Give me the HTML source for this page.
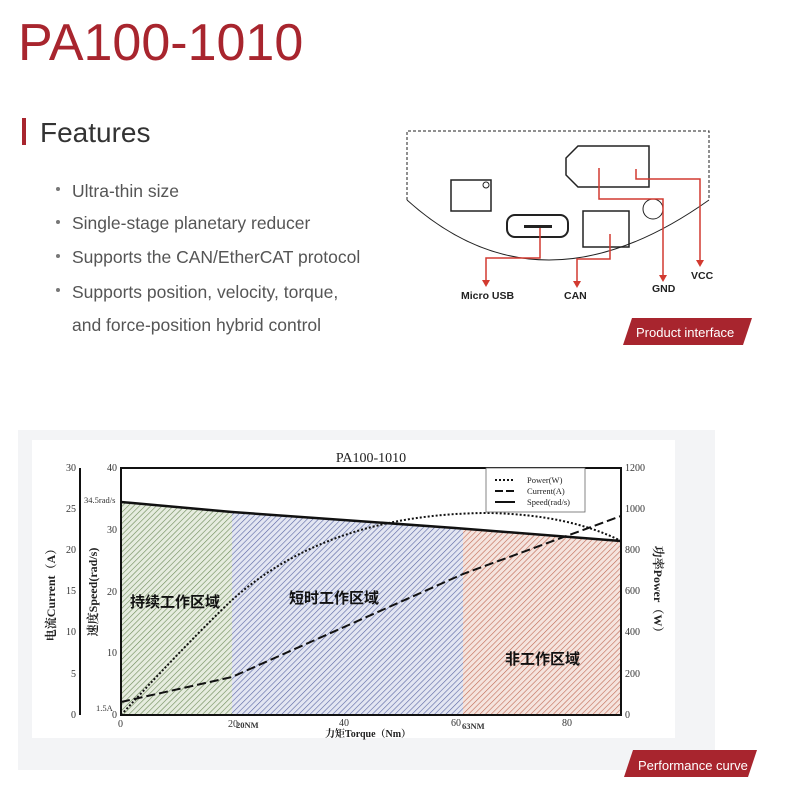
<!DOCTYPE html>
<html><head><meta charset="utf-8"><style>
html,body{margin:0;padding:0;background:#fff;width:787px;height:807px;overflow:hidden}
svg{display:block}
</style></head><body>
<svg width="787" height="807" viewBox="0 0 787 807" xmlns="http://www.w3.org/2000/svg" font-family="Liberation Sans, sans-serif">
<defs>
<pattern id="hg" width="4" height="4" patternUnits="userSpaceOnUse" patternTransform="rotate(45)"><rect width="4" height="4" fill="#e6ecdf"/><line x1="0" y1="0" x2="0" y2="4" stroke="#6d8a58" stroke-width="1.2"/></pattern>
<pattern id="hb" width="4" height="4" patternUnits="userSpaceOnUse" patternTransform="rotate(45)"><rect width="4" height="4" fill="#e3e6f2"/><line x1="0" y1="0" x2="0" y2="4" stroke="#5a66a3" stroke-width="1.2"/></pattern>
<pattern id="hr" width="4" height="4" patternUnits="userSpaceOnUse" patternTransform="rotate(45)"><rect width="4" height="4" fill="#f5e4de"/><line x1="0" y1="0" x2="0" y2="4" stroke="#c06a55" stroke-width="1.2"/></pattern>
</defs>
<text x="18" y="60" font-size="52" fill="#a8252e" font-family="Liberation Sans, sans-serif">PA100-1010</text>
<rect x="22" y="118" width="4" height="27" fill="#a8252e"/>
<text x="40" y="142" font-size="28" fill="#333">Features</text>
<g font-size="17.5" fill="#555">
<circle cx="58" cy="189" r="2" fill="#777"/><text x="72" y="197">Ultra-thin size</text>
<circle cx="58" cy="222" r="2" fill="#777"/><text x="72" y="229">Single-stage planetary reducer</text>
<circle cx="58" cy="256" r="2" fill="#777"/><text x="72" y="263">Supports the CAN/EtherCAT protocol</text>
<circle cx="58" cy="290" r="2" fill="#777"/><text x="72" y="298">Supports position, velocity, torque,</text>
<text x="72" y="331">and force-position hybrid control</text>
</g>
<g fill="none" stroke="#222" stroke-width="1">
<path d="M407 200 V131 H709 V200" stroke-dasharray="3,2"/>
<path d="M407 200 Q540 320 709 200"/>
<rect x="451" y="180" width="40" height="31" stroke-width="1.5"/>
<circle cx="486" cy="185" r="3"/>
<rect x="507" y="215" width="61" height="22" rx="8" stroke-width="2"/>
<rect x="583" y="211" width="46" height="36" stroke-width="1.5"/>
<path d="M578 146 H649 V187 H578 L566 175 V158 Z" stroke-width="1.5"/>
<circle cx="653" cy="209" r="10"/>
</g>
<rect x="524" y="225" width="28" height="3" fill="#222"/>
<g fill="none" stroke="#d23a30" stroke-width="1.5">
<path d="M540 228 V258 H486 V282"/><path d="M610 234 V259 H577 V283"/>
<path d="M599 168 V199 H663 V277"/><path d="M636 169 V179 H700 V262"/>
</g>
<g fill="#d23a30"><path d="M482 280 L486 287 L490 280Z"/><path d="M573 281 L577 288 L581 281Z"/><path d="M659 275 L663 282 L667 275Z"/><path d="M696 260 L700 267 L704 260Z"/></g>
<g font-size="10.5" font-weight="bold" fill="#222">
<text x="461" y="299">Micro USB</text><text x="564" y="299">CAN</text><text x="652" y="292">GND</text><text x="691" y="279">VCC</text>
</g>
<path d="M632 318 H752 L743 345 H623 Z" fill="#a8252e"/>
<text x="636" y="337" font-size="13" fill="#fff">Product interface</text>
<rect x="18" y="430" width="697" height="340" fill="#f3f4f6"/>
<rect x="32" y="440" width="643" height="298" fill="#fff"/>
<path d="M121 715 V502 L232 512 V715 Z" fill="url(#hg)"/>
<path d="M232 715 V512 L463 529 V715 Z" fill="url(#hb)"/>
<path d="M463 715 V529 L621 541 V715 Z" fill="url(#hr)"/>
<rect x="121" y="468" width="500" height="247" fill="none" stroke="#111" stroke-width="2"/>
<path d="M121 502 L232 512 L455 528 L621 541" fill="none" stroke="#111" stroke-width="2.5"/>
<path d="M121 715 Q190 640 232 600 Q330 513 490 513 Q570 515 621 541" fill="none" stroke="#111" stroke-width="2" stroke-dasharray="2,2"/>
<path d="M121 702 L232 677 L463 574 L621 516" fill="none" stroke="#111" stroke-width="2" stroke-dasharray="9,4"/>
<rect x="486" y="468" width="99" height="44" fill="#fff" stroke="#666" stroke-width="0.8"/>
<g stroke="#111" stroke-width="2"><line x1="495" y1="480" x2="515" y2="480" stroke-dasharray="2,2"/><line x1="495" y1="491" x2="515" y2="491" stroke-dasharray="8,3"/><line x1="495" y1="502" x2="515" y2="502"/></g>
<g font-family="Liberation Serif, serif" font-size="8.5" fill="#222"><text x="527" y="483">Power(W)</text><text x="527" y="494">Current(A)</text><text x="527" y="505">Speed(rad/s)</text></g>
<text x="371" y="462" text-anchor="middle" font-family="Liberation Serif, serif" font-size="14" fill="#222">PA100-1010</text>
<line x1="80" y1="468" x2="80" y2="715" stroke="#111" stroke-width="2"/>
<g font-family="Liberation Serif, serif" font-size="10" fill="#333">
<text x="76" y="471" text-anchor="end">30</text><text x="76" y="512" text-anchor="end">25</text><text x="76" y="553" text-anchor="end">20</text><text x="76" y="594" text-anchor="end">15</text><text x="76" y="635" text-anchor="end">10</text><text x="76" y="677" text-anchor="end">5</text><text x="76" y="718" text-anchor="end">0</text>
<text x="117" y="471" text-anchor="end">40</text><text x="117" y="533" text-anchor="end">30</text><text x="117" y="595" text-anchor="end">20</text><text x="117" y="656" text-anchor="end">10</text><text x="117" y="718" text-anchor="end">0</text>
<text x="84" y="503" font-size="8.5">34.5rad/s</text><text x="96" y="711" font-size="8.5">1.5A</text>
<text x="625" y="471">1200</text><text x="625" y="512">1000</text><text x="625" y="553">800</text><text x="625" y="594">600</text><text x="625" y="635">400</text><text x="625" y="677">200</text><text x="625" y="718">0</text>
<text x="118" y="727">0</text><text x="228" y="727">20</text><text x="339" y="726">40</text><text x="451" y="726">60</text><text x="562" y="726">80</text>
<text x="236" y="728" font-weight="bold" font-size="8.5">20NM</text><text x="462" y="729" font-weight="bold" font-size="8.5">63NM</text>
</g>
<text x="368" y="737" text-anchor="middle" font-family="Liberation Serif, Noto Serif CJK SC, serif" font-size="10" font-weight="bold" fill="#222">力矩Torque（Nm）</text>
<text transform="translate(55 592) rotate(-90)" text-anchor="middle" font-family="Liberation Serif, Noto Serif CJK SC, serif" font-size="12" font-weight="bold" fill="#222">电流Current（A）</text>
<text transform="translate(97 592) rotate(-90)" text-anchor="middle" font-family="Liberation Serif, Noto Serif CJK SC, serif" font-size="12" font-weight="bold" fill="#222">速度Speed(rad/s)</text>
<text transform="translate(654 592) rotate(90)" text-anchor="middle" font-family="Liberation Serif, Noto Serif CJK SC, serif" font-size="12" font-weight="bold" fill="#222">功率Power（W）</text>
<g font-family="Noto Sans CJK SC, sans-serif" font-size="15" font-weight="bold" fill="#111">
<text x="130" y="607">持续工作区域</text><text x="289" y="603">短时工作区域</text><text x="505" y="664">非工作区域</text>
</g>
<path d="M633 750 H757 L748 777 H624 Z" fill="#a8252e"/>
<text x="638" y="770" font-size="13" fill="#fff">Performance curve</text>
</svg>
</body></html>
